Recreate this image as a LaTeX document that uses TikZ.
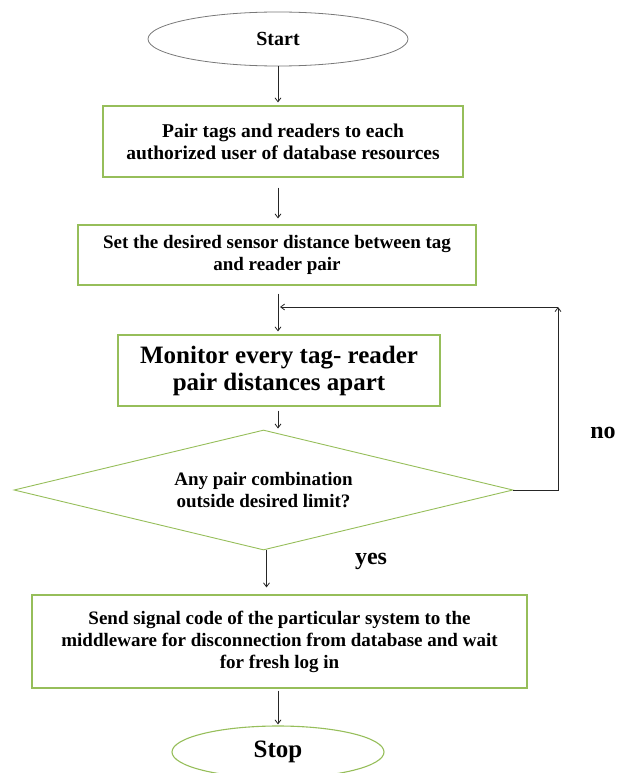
\documentclass[tikz,border=0pt]{standalone}
\usepackage{fontspec}
\setmainfont{Liberation Serif}
\usetikzlibrary{shapes.geometric,arrows.meta}
\definecolor{boxgreen}{RGB}{150,190,90}
\definecolor{ovalgray}{RGB}{120,120,120}
\tikzset{
  px/.style={x=1pt,y=-1pt},
  procbox/.style={draw=boxgreen,line width=1.1pt,rectangle,inner sep=0pt,align=center,font=\bfseries},
  oval/.style={ellipse,inner sep=0pt,font=\bfseries},
  decision/.style={diamond,draw=boxgreen,line width=0.9pt,inner sep=0pt,align=center,font=\bfseries,shape aspect=4.2},
  arr/.style={draw=black!85,line width=0.8pt,-{Straight Barb[length=4pt,width=6pt]}},
  lbl/.style={font=\bfseries\fontsize{24}{26}\selectfont}
}
\begin{document}
\begin{tikzpicture}[px]
\useasboundingbox (0,0) rectangle (626,773);
\node[oval,draw=ovalgray,line width=0.8pt,minimum width=260pt,minimum height=54pt,font=\bfseries\fontsize{20}{22}\selectfont] (start) at (278,39) {Start};
\node[procbox,minimum width=360pt,minimum height=71pt,font=\bfseries\fontsize{19.5}{22}\selectfont] (b1) at (283,141.5) {Pair tags and readers to each\\authorized user of database resources};
\node[procbox,minimum width=398pt,minimum height=60pt,font=\bfseries\fontsize{19}{22}\selectfont] (b2) at (277,255) {Set the desired sensor distance between tag\\and reader pair};
\node[procbox,minimum width=322pt,minimum height=71pt,font=\bfseries\fontsize{25}{27}\selectfont] (b3) at (279,370.5) {Monitor every tag- reader\\pair distances apart};
\node[decision,minimum width=499pt,minimum height=120pt,font=\bfseries\fontsize{19}{22}\selectfont] (d) at (263.5,490) {Any pair combination\\outside desired limit?};
\node[procbox,minimum width=495pt,minimum height=93pt,font=\bfseries\fontsize{19}{22}\selectfont] (b4) at (279.5,641.5) {Send signal code of the particular system to the\\middleware for disconnection from database and wait\\for fresh log in};
\node[oval,draw=boxgreen,line width=1.1pt,minimum width=212pt,minimum height=52pt,font=\bfseries\fontsize{25}{27}\selectfont] (stop) at (278,752) {Stop};
\node[lbl] (no) at (603,433) {no};
\node[lbl] (yes) at (371,561) {yes};
\coordinate (lp) at (558,307);
\coordinate (jn) at (280,307);
\draw[arr,shorten >=3pt] (start.south) -- (start.south |- b1.north);
\draw[arr,shorten <=10pt,shorten >=6pt] (b1.south -| start.south) -- (start.south |- b2.north);
\draw[arr,shorten <=8pt,shorten >=3pt] (b2.south -| start.south) -- (start.south |- b3.north);
\draw[arr,shorten <=4pt,shorten >=1pt] (b3.south -| start.south) -- (start.south |- d.north);
\draw[arr,shorten >=7pt] ([xshift=3pt]d.south) -- ([xshift=3pt]d.south |- b4.north);
\draw[arr,shorten <=2pt,shorten >=1pt] (b4.south -| start.south) -- (stop.north);
\draw[arr] (d.east) -| (lp);
\draw[arr] (lp) -- (jn);
\end{tikzpicture}
\end{document}
